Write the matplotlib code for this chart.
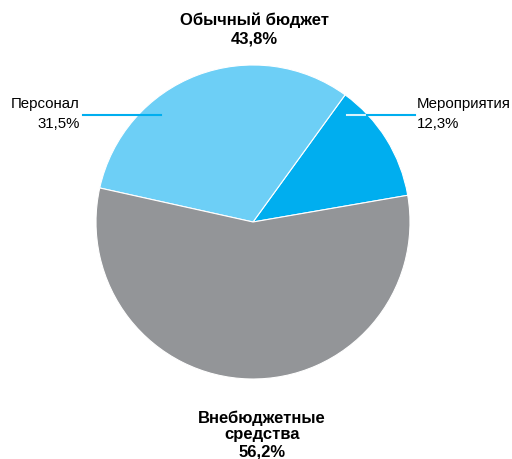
import matplotlib
matplotlib.use('Agg')
import matplotlib.pyplot as plt

labels = ['Мероприятия', 'Персонал', 'Внебюджетные средства']
shares = [12.3, 31.5, 56.2]
colors = ['#00aeef', '#6dcff6', '#939598']

W, H = 512, 459
plt.rcParams['font.family'] = ['Liberation Sans', 'DejaVu Sans']

fig = plt.figure(figsize=(W / 100, H / 100), dpi=100)
ax = fig.add_axes([0, 0, 1, 1])


def py(y):
    # pixel row from top -> data y
    return H - y


ax.pie(shares, colors=colors, startangle=9.8, counterclock=True,
       center=(253, py(222)), radius=157, frame=True,
       wedgeprops=dict(edgecolor='white', linewidth=0.8))
ax.set_xlim(0, W)
ax.set_ylim(0, H)
ax.axis('off')

# leader lines
ax.plot([83, 161], [py(115), py(115)], color='#00aeef', lw=1.5)
ax.plot([347, 367], [py(115), py(115)], color='#d8f3fc', lw=1.5)
ax.plot([367, 415], [py(115), py(115)], color='#00aeef', lw=1.5)

ax.text(80, py(104), 'Персонал', ha='right', va='center', fontsize=10.8)
ax.text(80, py(124), '31,5%', ha='right', va='center', fontsize=10.8)
ax.text(417, py(104), 'Мероприятия', ha='left', va='center', fontsize=10.8)
ax.text(417, py(124), '12,3%', ha='left', va='center', fontsize=10.8)

ax.text(254, py(20), 'Обычный бюджет', ha='center', va='center',
        fontsize=12, fontweight='bold')
ax.text(254, py(39), '43,8%', ha='center', va='center',
        fontsize=12, fontweight='bold')
ax.text(262, py(418), 'Внебюджетные', ha='center', va='center',
        fontsize=12, fontweight='bold')
ax.text(262, py(435), 'средства', ha='center', va='center',
        fontsize=12, fontweight='bold')
ax.text(262, py(452), '56,2%', ha='center', va='center',
        fontsize=12, fontweight='bold')

fig.savefig('out.png', dpi=100)
